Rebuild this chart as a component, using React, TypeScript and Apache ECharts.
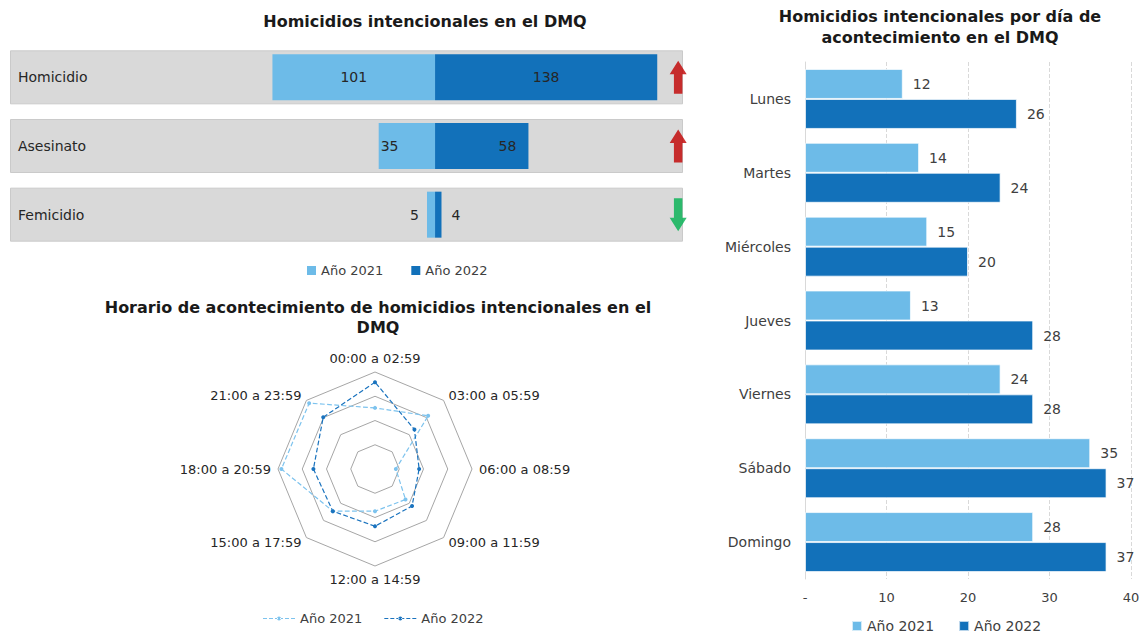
import React, { useEffect, useRef } from "react";
import * as echarts from "echarts";

// ---------------- DATA ----------------
const typeCategories = ["Homicidio", "Asesinato", "Femicidio"];
const type2021 = [101, 35, 5];
const type2022 = [138, 58, 4];

const dayCategories = ["Lunes", "Martes", "Miércoles", "Jueves", "Viernes", "Sábado", "Domingo"];
const day2021 = [12, 14, 15, 13, 24, 35, 28];
const day2022 = [26, 24, 20, 28, 28, 37, 37];
const dayTickLabels = ["-", "10", "20", "30", "40"];

const hourCategories = [
  "00:00 a 02:59",
  "03:00 a 05:59",
  "06:00 a 08:59",
  "09:00 a 11:59",
  "12:00 a 14:59",
  "15:00 a 17:59",
  "18:00 a 20:59",
  "21:00 a 23:59",
];
const hour2021 = [12.6, 15.5, 4.3, 8.9, 8.7, 12.3, 19.3, 19.2];
const hour2022 = [17.9, 11.5, 9.1, 10.8, 11.8, 12.3, 12.7, 15.1];

const seriesNames = ["Año 2021", "Año 2022"];

// ---------------- STYLE ----------------
const FONT = "DejaVu Sans";
const LIGHT = "#6DBBE8";
const DARK = "#1271BA";
const RADAR_LIGHT = "#7DC3EE";
const RADAR_DARK = "#1A73BE";
const TEXT = "#262626";

const label2021Place = [
  { position: "inside" },
  { position: "insideLeft", distance: 2 },
  { position: "left", distance: 8 },
];
const label2022Place = [
  { position: "inside" },
  { position: "insideRight", distance: 12 },
  { position: "right", distance: 10 },
];

const ARROW = "path://M0,13 L9,0 L18,13 L13.5,13 L13.5,32 L4.5,32 L4.5,13 Z";
const DASH_ICON =
  "path://M0,3.4 h4 v1.2 h-4 Z M6,3.4 h4 v1.2 h-4 Z M12,3.4 h3 v1.2 h-3 Z M17,3.4 h3 v1.2 h-3 Z M22,3.4 h4 v1.2 h-4 Z M28,3.4 h4 v1.2 h-4 Z M14,4 a2,2 0 1,0 4,0 a2,2 0 1,0 -4,0 Z";

// ---------------- OPTIONS ----------------
const optA: any = {
  animation: false,
  textStyle: { fontFamily: FONT },
  title: {
    text: "Homicidios intencionales en el DMQ",
    left: 420,
    top: 8,
    textAlign: "center",
    textStyle: { fontFamily: FONT, fontSize: 16, fontWeight: "bold", color: "#1a1a1a" },
  },
  legend: {
    data: seriesNames,
    left: 302,
    top: 259,
    icon: "rect",
    itemWidth: 9,
    itemHeight: 9,
    itemGap: 28,
    textStyle: { fontFamily: FONT, fontSize: 13, color: "#404040" },
  },
  grid: { left: 10, right: 17, top: 43, height: 206 },
  xAxis: [
    { type: "value", min: -264, max: 154, show: false },
    { type: "value", min: 0, max: 1, show: false },
  ],
  yAxis: [
    {
      type: "category",
      inverse: true,
      data: typeCategories,
      z: 10,
      axisLine: { show: false },
      axisTick: { show: false },
      axisLabel: { inside: true, margin: 8, fontSize: 14, color: TEXT, fontFamily: FONT },
    },
    { type: "category", inverse: true, data: typeCategories, show: false },
  ],
  series: [
    {
      type: "bar",
      name: "bg",
      xAxisIndex: 1,
      yAxisIndex: 1,
      silent: true,
      barWidth: 54,
      z: 1,
      data: typeCategories.map(() => 1),
      itemStyle: { color: "#D9D9D9", borderColor: "#CACACA", borderWidth: 1 },
    },
    {
      type: "bar",
      name: seriesNames[0],
      stack: "d",
      barWidth: 46,
      z: 2,
      itemStyle: { color: LIGHT },
      label: {
        show: true,
        fontSize: 14,
        color: TEXT,
        fontFamily: FONT,
        formatter: (p: any) => String(Math.abs(p.value)),
      },
      data: type2021.map((v, i) => ({ value: -v, label: label2021Place[i] })),
    },
    {
      type: "bar",
      name: seriesNames[1],
      stack: "d",
      barWidth: 46,
      z: 2,
      itemStyle: { color: DARK },
      label: { show: true, fontSize: 14, color: TEXT, fontFamily: FONT },
      data: type2022.map((v, i) => ({ value: v, label: label2022Place[i] })),
    },
    {
      type: "scatter",
      silent: true,
      symbol: ARROW,
      symbolSize: [17, 33],
      z: 5,
      data: typeCategories.map((c, i) => {
        const up = type2022[i] > type2021[i];
        return {
          value: [151, i],
          symbolRotate: up ? 0 : 180,
          itemStyle: { color: up ? "#C00000" : "#00B050" },
        };
      }),
    },
  ],
};

const radarOrder = [0, 7, 6, 5, 4, 3, 2, 1]; // ECharts places indicators counter-clockwise

const optB: any = {
  animation: false,
  textStyle: { fontFamily: FONT },
  title: {
    text: "Horario de acontecimiento de homicidios intencionales en el\nDMQ",
    left: 373,
    top: 7,
    textAlign: "center",
    textStyle: { fontFamily: FONT, fontSize: 16, fontWeight: "bold", color: "#1a1a1a", lineHeight: 20 },
  },
  legend: {
    data: seriesNames.map((n) => ({ name: n, icon: DASH_ICON })),
    left: 258,
    top: 322,
    itemWidth: 32,
    itemHeight: 8,
    itemGap: 22,
    textStyle: { fontFamily: FONT, fontSize: 13, color: "#404040" },
  },
  radar: {
    center: [375, 184],
    radius: 97,
    startAngle: 90,
    splitNumber: 4,
    shape: "polygon",
    nameGap: 7,
    indicator: radarOrder.map((i) => ({ name: hourCategories[i], min: 0, max: 20 })),
    axisName: { color: TEXT, fontSize: 13, fontFamily: FONT },
    splitLine: { lineStyle: { color: "#A6A6A6", width: 1 } },
    splitArea: { show: false },
    axisLine: { show: false },
    axisTick: { show: false },
    axisLabel: { show: false },
  },
  series: [
    {
      type: "radar",
      symbol: "circle",
      symbolSize: 4,
      data: [
        {
          name: seriesNames[0],
          value: radarOrder.map((i) => hour2021[i]),
          lineStyle: { color: RADAR_LIGHT, type: "dashed", width: 1.2 },
          itemStyle: { color: RADAR_LIGHT },
        },
        {
          name: seriesNames[1],
          value: radarOrder.map((i) => hour2022[i]),
          lineStyle: { color: RADAR_DARK, type: "dashed", width: 1.2 },
          itemStyle: { color: RADAR_DARK },
        },
      ],
    },
  ],
};

const optC: any = {
  animation: false,
  textStyle: { fontFamily: FONT },
  title: {
    text: "Homicidios intencionales por día de\nacontecimiento en el DMQ",
    left: 235,
    top: 1,
    textAlign: "center",
    textStyle: { fontFamily: FONT, fontSize: 16, fontWeight: "bold", color: "#1a1a1a", lineHeight: 21 },
  },
  legend: {
    data: seriesNames,
    left: 146,
    top: 614,
    icon: "rect",
    itemWidth: 10,
    itemHeight: 10,
    itemGap: 24,
    textStyle: { fontFamily: FONT, fontSize: 14, color: "#404040" },
  },
  grid: { left: 105, right: 13, top: 62, bottom: 56 },
  xAxis: {
    type: "value",
    min: 0,
    max: 40,
    interval: 10,
    axisLine: { show: false },
    axisTick: { show: false },
    axisLabel: {
      margin: 12,
      fontSize: 13,
      color: "#404040",
      fontFamily: FONT,
      formatter: (v: number, i: number) => dayTickLabels[i],
    },
    splitLine: { lineStyle: { type: "dashed", color: "#D9D9D9" } },
  },
  yAxis: {
    type: "category",
    inverse: true,
    data: dayCategories,
    axisTick: { show: false },
    axisLine: { lineStyle: { color: "#D9D9D9" } },
    axisLabel: { margin: 14, fontSize: 14, color: "#404040", fontFamily: FONT },
  },
  series: [
    {
      type: "bar",
      name: seriesNames[0],
      data: day2021,
      barWidth: 30,
      barGap: "0%",
      itemStyle: { color: LIGHT, borderColor: "rgba(255,255,255,0.7)", borderWidth: 1 },
      label: { show: true, position: "right", distance: 10, fontSize: 14, color: "#404040", fontFamily: FONT },
    },
    {
      type: "bar",
      name: seriesNames[1],
      data: day2022,
      barWidth: 30,
      barGap: "0%",
      itemStyle: { color: DARK, borderColor: "rgba(255,255,255,0.7)", borderWidth: 1 },
      label: { show: true, position: "right", distance: 10, fontSize: 14, color: "#404040", fontFamily: FONT },
    },
  ],
};

// ---------------- COMPONENTS ----------------
function EChart({ option, style }: { option: any; style: React.CSSProperties }) {
  const ref = useRef<HTMLDivElement>(null);
  useEffect(() => {
    const chart = echarts.init(ref.current as HTMLDivElement, null, { renderer: "svg" });
    chart.setOption(option);
    return () => chart.dispose();
  }, [option]);
  return <div ref={ref} style={style} />;
}

export default function App() {
  return (
    <div style={{ position: "absolute", left: 0, top: 0, width: 1144, height: 635, background: "#ffffff" }}>
      <EChart option={optA} style={{ position: "absolute", left: 0, top: 0, width: 700, height: 285 }} />
      <EChart option={optB} style={{ position: "absolute", left: 0, top: 285, width: 700, height: 350 }} />
      <EChart option={optC} style={{ position: "absolute", left: 700, top: 0, width: 444, height: 635 }} />
    </div>
  );
}
